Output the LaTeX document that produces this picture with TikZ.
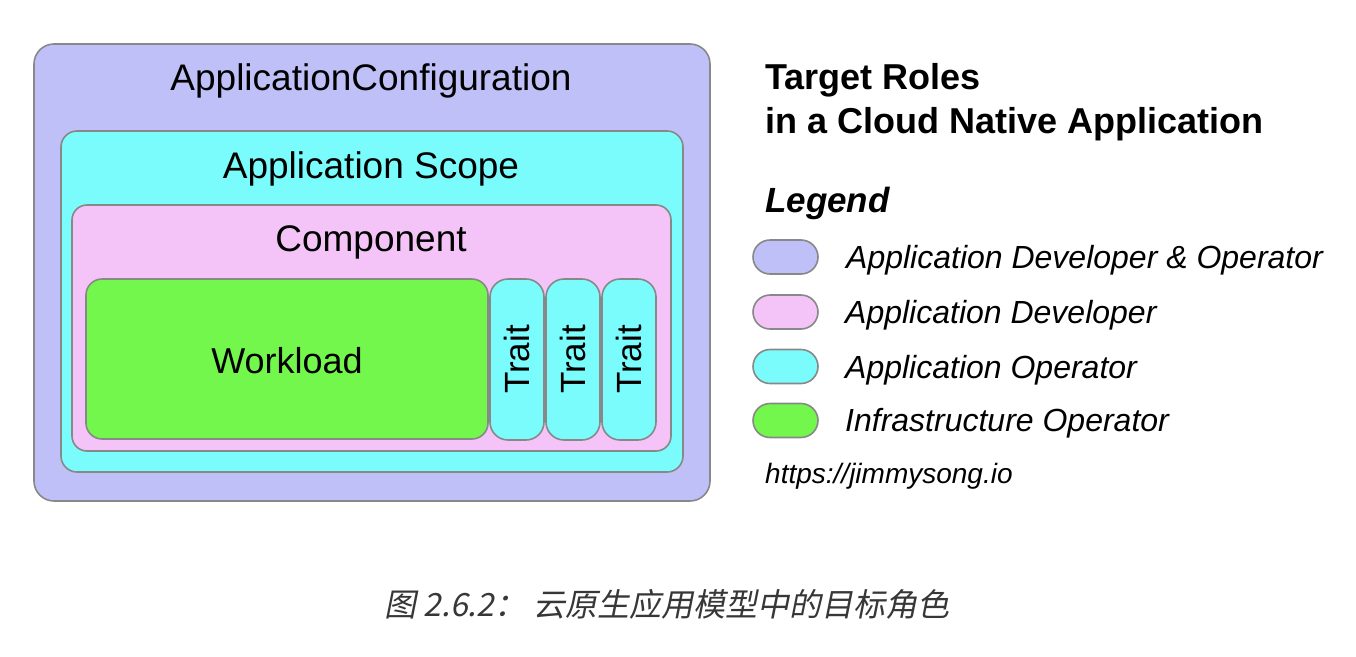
\documentclass[tikz,border=0pt]{standalone}
\usepackage{fontspec}
\setmainfont{Liberation Sans}
\newfontfamily\cjk{Noto Sans CJK SC}[FakeSlant=0.2]
\definecolor{lav}{RGB}{191,192,248}
\definecolor{cyanbox}{RGB}{123,252,252}
\definecolor{pinkbox}{RGB}{244,196,248}
\definecolor{greenbox}{RGB}{115,247,76}
\definecolor{edgegray}{RGB}{136,136,136}
\definecolor{captiongray}{RGB}{55,55,55}
\begin{document}
\begin{tikzpicture}[x=1pt,y=-1pt,
  box/.style={draw=edgegray, line width=1.6pt, inner sep=0pt},
  lbl/.style={inner sep=0pt, anchor=base, font=\fontsize{37}{40}\selectfont},
  traitbox/.style={box, fill=cyanbox, minimum width=54pt, minimum height=161pt, rounded corners=18pt},
  traitlbl/.style={inner sep=0pt, rotate=90, font=\fontsize{35}{40}\selectfont},
  swatch/.style={box, minimum width=65pt, minimum height=34pt, rounded corners=17pt},
  legtext/.style={inner sep=0pt, anchor=base west, font=\fontsize{32}{36}\selectfont\itshape},
  titletext/.style={inner sep=0pt, anchor=base west, font=\fontsize{36}{40}\selectfont\bfseries}
]
\useasboundingbox (0,0) rectangle (1356,656);
\fill[white] (0,0) rectangle (1356,656);

% nested boxes
\node[box, fill=lav, minimum width=676pt, minimum height=457pt, rounded corners=20pt] (cfg) at (372,272.5) {};
\node[lbl] (cfgT) at (371,90.5) {ApplicationConfiguration};
\node[box, fill=cyanbox, minimum width=622pt, minimum height=341pt, rounded corners=16pt] (scope) at (372,301.5) {};
\node[lbl] (scopeT) at (371,178.5) {Application Scope};
\node[box, fill=pinkbox, minimum width=599pt, minimum height=246pt, rounded corners=15pt] (comp) at (371.5,328) {};
\node[lbl] (compT) at (371,251.5) {Component};
\node[box, fill=greenbox, minimum width=402pt, minimum height=160pt, rounded corners=16pt] (wl) at (287,359) {};
\node[lbl, font=\fontsize{36}{40}\selectfont] (wlT) at (287,373) {Workload};

\node[traitbox] (t1) at (517,359.5) {};
\node[traitbox] (t2) at (573,359.5) {};
\node[traitbox] (t3) at (629,359.5) {};
\node[traitlbl] (t1T) at (t1.center) {Trait};
\node[traitlbl] (t2T) at (t2.center) {Trait};
\node[traitlbl] (t3T) at (t3.center) {Trait};

% title and legend
\node[titletext] (title1) at (765,89.5) {Target Roles};
\node[titletext] (title2) at (765,133.5) {in a Cloud Native Application};
\node[titletext, font=\fontsize{35}{40}\selectfont\bfseries\itshape] (legend) at (765,212.5) {Legend};

\node[swatch, fill=lav] (s1) at (785.5,257) {};
\node[swatch, fill=pinkbox] (s2) at (785.5,312) {};
\node[swatch, fill=cyanbox] (s3) at (785.5,366.5) {};
\node[swatch, fill=greenbox] (s4) at (785.5,420.5) {};
\node[legtext] (l1) at (846,268.5) {Application Developer \& Operator};
\node[legtext] (l2) at (845,323.5) {Application Developer};
\node[legtext] (l3) at (845,378.5) {Application Operator};
\node[legtext] (l4) at (845,431.5) {Infrastructure Operator};

\node[inner sep=0pt, anchor=base west, font=\fontsize{28}{32}\selectfont\itshape] (url) at (765,483) {https://jimmysong.io};

% caption
\node[inner sep=0pt, anchor=base, text=captiongray, font=\fontsize{32}{36}\selectfont\cjk] (cap) at (667,616) {图 2.6.2： 云原生应用模型中的目标角色};
\end{tikzpicture}
\end{document}
